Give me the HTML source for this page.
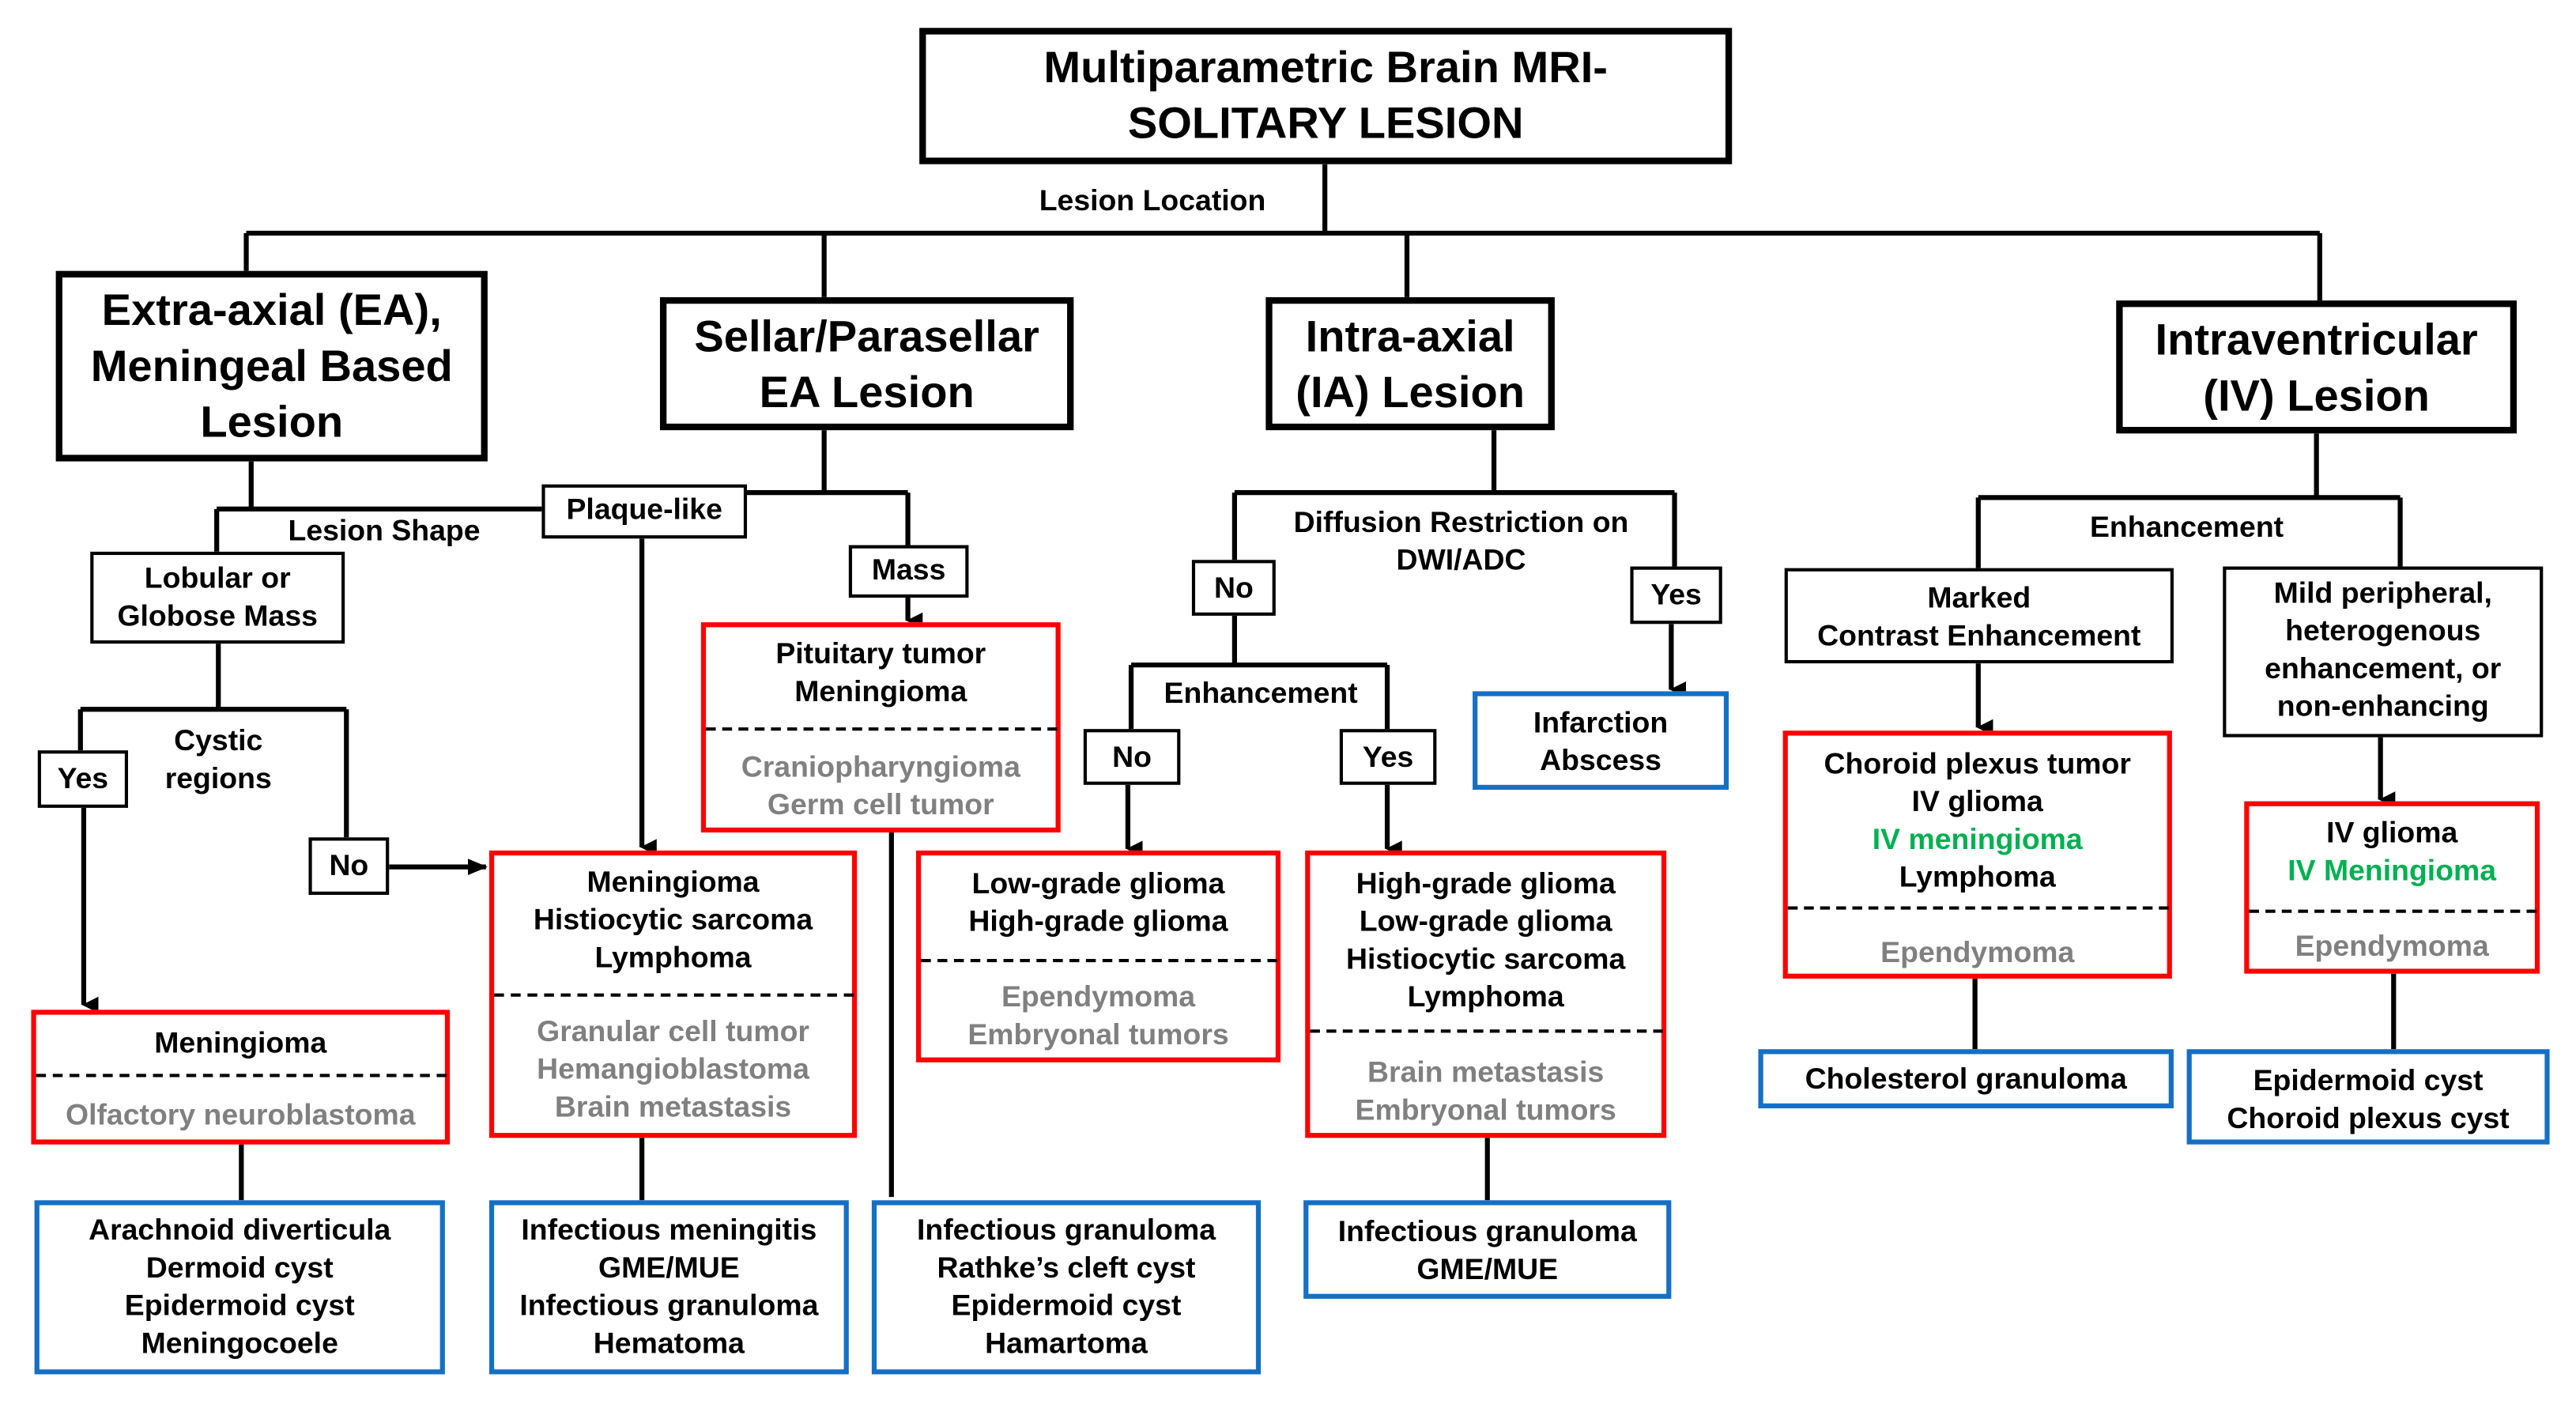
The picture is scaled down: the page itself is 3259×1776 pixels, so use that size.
<!DOCTYPE html>
<html><head><meta charset="utf-8"><style>
html,body{margin:0;padding:0;background:#fff;}
body{width:3259px;height:1775px;overflow:hidden;position:relative;}
#c{position:absolute;left:0;top:0;width:1569px;height:855px;transform:scale(2.077);transform-origin:0 0;font-family:"Liberation Sans",Arial,sans-serif;font-weight:bold;color:#000;}
.b{position:absolute;box-sizing:border-box;background:#fff;}
.k{border:2px solid #000;}
.K{border:4px solid #000;}
.r{border:3.5px solid #ff0000;}
.u{border:3.5px solid #1570c4;}
.t{position:absolute;text-align:center;font-size:18px;line-height:23px;white-space:nowrap;}
.h{font-size:27px;line-height:34px;}
.g{color:#808080;}
.gr{color:#00b050;}
.d{position:absolute;border-top:2px dashed #000;height:0;}
svg{position:absolute;left:0;top:0;}
</style></head><body><div id="c">
<svg width="1563" height="851">
<defs><marker id="a" markerWidth="10" markerHeight="10" refX="5" refY="9" orient="auto" markerUnits="userSpaceOnUse"><path d="M0,0 L10,0 L5,10 z" fill="#000"/></marker>
<marker id="ar" markerWidth="12" markerHeight="10" refX="11" refY="5" orient="auto-start-reverse" markerUnits="userSpaceOnUse"><path d="M0,0 L12,5 L0,10 z" fill="#000"/></marker></defs>
<g stroke="#000" stroke-width="3" fill="none">
<path d="M807,100 V142 M150,142 H1413 M150,142 V165 M502,142 V181 M857,142 V181 M1413,142 V183"/>
<path d="M153,281 V310 M132,310 H330 M132,310 V336"/>
<path d="M133,392 V432 M49,432 H211 M49,432 V457 M211,432 V510"/>
<path d="M51,492 V612" marker-end="url(#a)"/>
<path d="M237,528 H296" marker-end="url(#ar)"/>
<path d="M147,697 V731"/>
<path d="M502,262 V300 M455,300 H553 M553,300 V332"/>
<path d="M553,364 V378" marker-end="url(#a)"/>
<path d="M391,328 V516" marker-end="url(#a)"/>
<path d="M543,507 V729 M391,693 V731"/>
<path d="M910,262 V300 M752,300 H1020 M752,300 V341 M1020,300 V345"/>
<path d="M1018,380 V420" marker-end="url(#a)"/>
<path d="M752,375 V405 M689,405 H845 M689,405 V444 M845,405 V444"/>
<path d="M687,478 V517" marker-end="url(#a)"/>
<path d="M845,478 V517" marker-end="url(#a)"/>
<path d="M906,693 V731"/>
<path d="M1411,264 V303 M1205,303 H1462 M1205,303 V346 M1462,303 V345"/>
<path d="M1205,404 V443" marker-end="url(#a)"/>
<path d="M1450,449 V487" marker-end="url(#a)"/>
<path d="M1203,596 V639 M1458,593 V639"/>
</g></svg>

<div class="b K" style="left:560px;top:17px;width:495px;height:83px"></div>
<div class="t h" style="left:560px;top:24px;width:495px">Multiparametric Brain MRI-<br>SOLITARY LESION</div>
<div class="t" style="left:600px;top:111px;width:204px">Lesion Location</div>

<div class="b K" style="left:34px;top:165px;width:263px;height:116px"></div>
<div class="t h" style="left:34px;top:172px;width:263px">Extra-axial (EA),<br>Meningeal Based<br>Lesion</div>
<div class="b K" style="left:402px;top:181px;width:252px;height:81px"></div>
<div class="t h" style="left:402px;top:188px;width:252px">Sellar/Parasellar<br>EA Lesion</div>
<div class="b K" style="left:771px;top:181px;width:176px;height:81px"></div>
<div class="t h" style="left:771px;top:188px;width:176px">Intra-axial<br>(IA) Lesion</div>
<div class="b K" style="left:1289px;top:183px;width:244px;height:81px"></div>
<div class="t h" style="left:1289px;top:190px;width:244px">Intraventricular<br>(IV) Lesion</div>

<div class="t" style="left:160px;top:312px;width:148px">Lesion Shape</div>
<div class="b k" style="left:55px;top:336px;width:155px;height:56px"></div>
<div class="t" style="left:55px;top:341px;width:155px">Lobular or<br>Globose Mass</div>
<div class="b k" style="left:23px;top:457px;width:55px;height:35px"></div>
<div class="t" style="left:23px;top:463px;width:55px">Yes</div>
<div class="t" style="left:88px;top:440px;width:90px">Cystic<br>regions</div>
<div class="b k" style="left:188px;top:510px;width:49px;height:35px"></div>
<div class="t" style="left:188px;top:516px;width:49px">No</div>

<div class="b r" style="left:19px;top:615px;width:255px;height:82px"></div>
<div class="d" style="left:22px;top:654px;width:250px"></div>
<div class="t" style="left:19px;top:624px;width:255px">Meningioma</div>
<div class="t g" style="left:19px;top:668px;width:255px">Olfactory neuroblastoma</div>
<div class="b u" style="left:21px;top:731px;width:250px;height:106px"></div>
<div class="t" style="left:21px;top:738px;width:250px">Arachnoid diverticula<br>Dermoid cyst<br>Epidermoid cyst<br>Meningocoele</div>

<div class="b k" style="left:330px;top:295px;width:125px;height:33px"></div>
<div class="t" style="left:330px;top:299px;width:125px">Plaque-like</div>
<div class="b k" style="left:517px;top:332px;width:73px;height:32px"></div>
<div class="t" style="left:517px;top:336px;width:73px">Mass</div>

<div class="b r" style="left:427px;top:379px;width:219px;height:128px"></div>
<div class="d" style="left:430px;top:443px;width:214px"></div>
<div class="t" style="left:427px;top:387px;width:219px">Pituitary tumor<br>Meningioma</div>
<div class="t g" style="left:427px;top:456px;width:219px">Craniopharyngioma<br>Germ cell tumor</div>

<div class="b r" style="left:298px;top:518px;width:224px;height:175px"></div>
<div class="d" style="left:301px;top:605px;width:219px"></div>
<div class="t" style="left:298px;top:526px;width:224px">Meningioma<br>Histiocytic sarcoma<br>Lymphoma</div>
<div class="t g" style="left:298px;top:617px;width:224px">Granular cell tumor<br>Hemangioblastoma<br>Brain metastasis</div>
<div class="b u" style="left:298px;top:731px;width:219px;height:106px"></div>
<div class="t" style="left:298px;top:738px;width:219px">Infectious meningitis<br>GME/MUE<br>Infectious granuloma<br>Hematoma</div>
<div class="b u" style="left:531px;top:731px;width:237px;height:106px"></div>
<div class="t" style="left:531px;top:738px;width:237px">Infectious granuloma<br>Rathke’s cleft cyst<br>Epidermoid cyst<br>Hamartoma</div>

<div class="t" style="left:770px;top:307px;width:240px">Diffusion Restriction on<br>DWI/ADC</div>
<div class="b k" style="left:726px;top:341px;width:51px;height:34px"></div>
<div class="t" style="left:726px;top:347px;width:51px">No</div>
<div class="b k" style="left:993px;top:345px;width:56px;height:35px"></div>
<div class="t" style="left:993px;top:351px;width:56px">Yes</div>
<div class="b u" style="left:897px;top:421px;width:156px;height:60px"></div>
<div class="t" style="left:897px;top:429px;width:156px">Infarction<br>Abscess</div>
<div class="t" style="left:700px;top:411px;width:136px">Enhancement</div>
<div class="b k" style="left:660px;top:444px;width:59px;height:34px"></div>
<div class="t" style="left:660px;top:450px;width:59px">No</div>
<div class="b k" style="left:816px;top:444px;width:59px;height:34px"></div>
<div class="t" style="left:816px;top:450px;width:59px">Yes</div>

<div class="b r" style="left:558px;top:518px;width:222px;height:129px"></div>
<div class="d" style="left:561px;top:584px;width:217px"></div>
<div class="t" style="left:558px;top:527px;width:222px">Low-grade glioma<br>High-grade glioma</div>
<div class="t g" style="left:558px;top:596px;width:222px">Ependymoma<br>Embryonal tumors</div>

<div class="b r" style="left:795px;top:518px;width:220px;height:175px"></div>
<div class="d" style="left:798px;top:627px;width:215px"></div>
<div class="t" style="left:795px;top:527px;width:220px">High-grade glioma<br>Low-grade glioma<br>Histiocytic sarcoma<br>Lymphoma</div>
<div class="t g" style="left:795px;top:642px;width:220px">Brain metastasis<br>Embryonal tumors</div>
<div class="b u" style="left:794px;top:731px;width:224px;height:60px"></div>
<div class="t" style="left:794px;top:739px;width:224px">Infectious granuloma<br>GME/MUE</div>

<div class="t" style="left:1262px;top:310px;width:140px">Enhancement</div>
<div class="b k" style="left:1087px;top:346px;width:237px;height:58px"></div>
<div class="t" style="left:1087px;top:353px;width:237px">Marked<br>Contrast Enhancement</div>
<div class="b k" style="left:1354px;top:345px;width:195px;height:104px"></div>
<div class="t" style="left:1354px;top:350px;width:195px">Mild peripheral,<br>heterogenous<br>enhancement, or<br>non-enhancing</div>

<div class="b r" style="left:1086px;top:445px;width:237px;height:151px"></div>
<div class="d" style="left:1089px;top:552px;width:232px"></div>
<div class="t" style="left:1086px;top:454px;width:237px">Choroid plexus tumor<br>IV glioma<br><span class="gr">IV meningioma</span><br>Lymphoma</div>
<div class="t g" style="left:1086px;top:569px;width:237px">Ependymoma</div>
<div class="b u" style="left:1071px;top:639px;width:253px;height:36px"></div>
<div class="t" style="left:1071px;top:646px;width:253px">Cholesterol granuloma</div>

<div class="b r" style="left:1367px;top:488px;width:180px;height:105px"></div>
<div class="d" style="left:1370px;top:554px;width:175px"></div>
<div class="t" style="left:1367px;top:496px;width:180px">IV glioma<br><span class="gr">IV Meningioma</span></div>
<div class="t g" style="left:1367px;top:565px;width:180px">Ependymoma</div>
<div class="b u" style="left:1332px;top:639px;width:221px;height:58px"></div>
<div class="t" style="left:1332px;top:647px;width:221px">Epidermoid cyst<br>Choroid plexus cyst</div>
</div></body></html>
